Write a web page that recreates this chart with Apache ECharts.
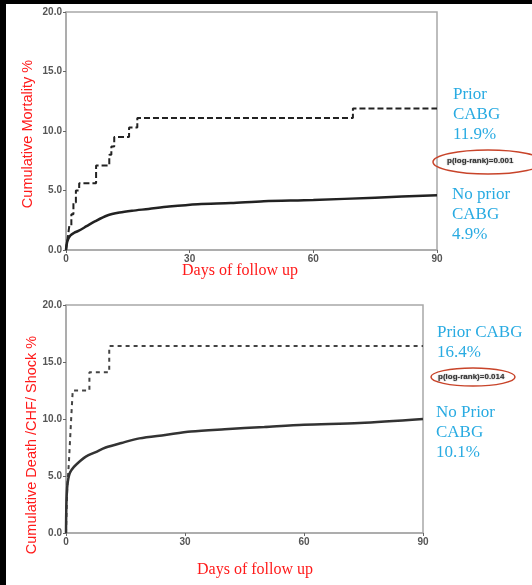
<!DOCTYPE html>
<html>
<head>
<meta charset="utf-8">
<script src="https://cdn.jsdelivr.net/npm/echarts@6/dist/echarts.min.js"></script>
<style>
html,body{margin:0;padding:0;background:#fff;}
#c{width:532px;height:585px;}
</style>
</head>
<body>
<div id="c"></div>
<script>
// ---- Data (days of follow-up, cumulative %) ----
var xTicks = [0, 30, 60, 90];
var yTicks = [0, 5, 10, 15, 20];

// Top panel: cumulative mortality
var mortPriorCABG = [[0,0],[0.4,1],[0.8,2],[1.3,3],[1.8,4],[2.4,5],[3.2,5.6],[7.3,7.1],[10.5,8.0],[11,8.7],[11.7,9.5],[15.3,10.3],[17.3,11.1],[69.6,11.9],[90,11.9]];
var mortNoPrior = [[0,0],[0.3,0.7],[1,1.2],[2,1.45],[3,1.6],[5,2.0],[7,2.4],[10,2.9],[13,3.15],[16,3.3],[20,3.45],[25,3.65],[32,3.85],[40,3.95],[48,4.1],[60,4.2],[75,4.4],[90,4.6]];

// Bottom panel: cumulative death / CHF / shock
var dcsPriorCABG = [[0,0],[0.3,4],[0.7,6],[1,8],[1.3,10],[1.7,12.5],[5.9,14.1],[10.9,16.4],[90,16.4]];
var dcsNoPrior = [[0,0],[0.1,2.5],[0.3,4.0],[0.6,4.8],[1,5.3],[2,5.8],[3.5,6.3],[5,6.7],[7.5,7.1],[10,7.5],[14,7.9],[18.5,8.3],[25,8.6],[31.5,8.9],[40,9.1],[50,9.3],[60,9.5],[74,9.65],[90,10.0]];

var topLabels = {prior: ['Prior','CABG','11.9%'], noPrior: ['No prior','CABG','4.9%'], p: 'p(log-rank)=0.001'};
var botLabels = {prior: ['Prior CABG','16.4%'], noPrior: ['No Prior','CABG','10.1%'], p: 'p(log-rank)=0.014'};
var yTitles = ['Cumulative Mortality %', 'Cumulative Death /CHF/ Shock %'];
var xTitle = 'Days of follow up';

var RED = '#ff1a1a', BLUE = '#29abe2', GRAY = '#a8a8a8';

function xAx(gi){
  return {type:'value', gridIndex:gi, min:0, max:90, interval:30,
    axisLine:{show:true, onZero:false, lineStyle:{color:GRAY, width:1.5}},
    axisTick:{show:true, length:3, lineStyle:{color:'#666'}},
    splitLine:{show:false},
    axisLabel:{fontSize:10, color:'#555', fontWeight:'bold', margin:4, fontFamily:'Liberation Sans'}};
}
function yAx(gi){
  return {type:'value', gridIndex:gi, min:0, max:20, interval:5,
    axisLine:{show:true, lineStyle:{color:GRAY, width:1.5}},
    axisTick:{show:true, length:3, lineStyle:{color:'#666'}},
    splitLine:{show:false},
    axisLabel:{fontSize:10, color:'#555', fontWeight:'bold', margin:4, fontFamily:'Liberation Sans',
      formatter:function(v){return v.toFixed(1);}}};
}

function textLines(lines, x, y0, dy, size){
  return lines.map(function(t,i){
    return {type:'text', left:x, top:y0 + i*dy, style:{text:t, fill:BLUE, font: size+'px "Liberation Serif", serif'}};
  });
}
function yTitle(t, x, y){
  return {type:'text', x:x, y:y, rotation:Math.PI/2,
    style:{text:t, fill:RED, font:'14.5px "Liberation Sans", sans-serif', textAlign:'center', textVerticalAlign:'middle'}};
}

var graphics = [
  {type:'rect', shape:{x:0,y:0,width:532,height:4}, style:{fill:'#000'}, z:100},
  {type:'rect', shape:{x:0,y:0,width:6,height:585}, style:{fill:'#000'}, z:100},
  yTitle(yTitles[0], 28, 134),
  yTitle(yTitles[1], 32, 445),
  {type:'text', left:182, top:263, style:{text:xTitle, fill:RED, font:'16px "Liberation Serif", serif'}},
  {type:'text', left:197, top:562, style:{text:xTitle, fill:RED, font:'16px "Liberation Serif", serif'}},
  {type:'ellipse', shape:{cx:488, cy:162, rx:55, ry:12}, style:{fill:'none', stroke:'#c8442a', lineWidth:1.5}},
  {type:'text', left:447, top:157, style:{text:topLabels.p, fill:'#333', font:'bold 8px "Liberation Sans", sans-serif', textShadowColor:'rgba(0,0,0,0.5)', textShadowBlur:1.5}},
  {type:'ellipse', shape:{cx:473, cy:377, rx:42, ry:9}, style:{fill:'none', stroke:'#c8442a', lineWidth:1.5}},
  {type:'text', left:438, top:373, style:{text:botLabels.p, fill:'#333', font:'bold 8px "Liberation Sans", sans-serif', textShadowColor:'rgba(0,0,0,0.5)', textShadowBlur:1.5}}
];
graphics = graphics.concat(textLines(topLabels.prior, 453, 86, 20, 17));
graphics = graphics.concat(textLines(topLabels.noPrior, 452, 186, 20, 17));
graphics = graphics.concat(textLines(botLabels.prior, 437, 324, 20, 17));
graphics = graphics.concat(textLines(botLabels.noPrior, 436, 404, 20, 17));

var chart = echarts.init(document.getElementById('c'), null, {renderer:'canvas'});
chart.setOption({
  backgroundColor:'#fff',
  animation:false,
  grid:[
    {left:66, top:12, width:371, height:238, show:true, borderColor:GRAY, borderWidth:1.5, backgroundColor:'#fff'},
    {left:66, top:305, width:357, height:228, show:true, borderColor:GRAY, borderWidth:1.5, backgroundColor:'#fff'}
  ],
  xAxis:[xAx(0), xAx(1)],
  yAxis:[yAx(0), yAx(1)],
  series:[
    {type:'line', xAxisIndex:0, yAxisIndex:0, data:mortPriorCABG, step:'end', symbol:'none',
      lineStyle:{color:'#222', width:2, type:[6,3]}},
    {type:'line', xAxisIndex:0, yAxisIndex:0, data:mortNoPrior, smooth:0.3, symbol:'none',
      lineStyle:{color:'#222', width:2.5}},
    {type:'line', xAxisIndex:1, yAxisIndex:1, data:dcsPriorCABG, step:'end', symbol:'none',
      lineStyle:{color:'#444', width:2, type:[4,4]}},
    {type:'line', xAxisIndex:1, yAxisIndex:1, data:dcsNoPrior, smooth:0.3, symbol:'none',
      lineStyle:{color:'#333', width:2.5}}
  ],
  graphic:graphics
});
</script>
</body>
</html>
